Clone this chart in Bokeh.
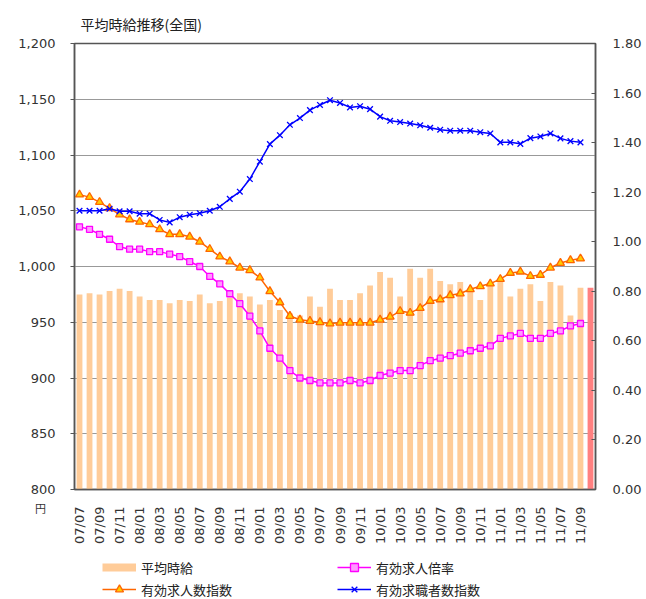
import math
from bokeh.plotting import figure
from bokeh.layouts import column
from bokeh.models import (Range1d, LinearAxis, FixedTicker, NumeralTickFormatter,
                          Legend, LegendItem, Label, ColumnDataSource)
from bokeh.embed import file_html
from bokeh.resources import INLINE

title_text = "平均時給推移(全国)"

months = ["07/07", "07/08", "07/09", "07/10", "07/11", "07/12",
          "08/01", "08/02", "08/03", "08/04", "08/05", "08/06",
          "08/07", "08/08", "08/09", "08/10", "08/11", "08/12",
          "09/01", "09/02", "09/03", "09/04", "09/05", "09/06",
          "09/07", "09/08", "09/09", "09/10", "09/11", "09/12",
          "10/01", "10/02", "10/03", "10/04", "10/05", "10/06",
          "10/07", "10/08", "10/09", "10/10", "10/11", "10/12",
          "11/01", "11/02", "11/03", "11/04", "11/05", "11/06",
          "11/07", "11/08", "11/09", "11/10"]

# 平均時給 (円)
wage = [975, 976, 975, 978, 980, 978, 973, 970, 970, 967, 970, 969,
        975, 967, 969, 972, 976, 973, 966, 970, 961, 958, 956, 973,
        964, 980, 970, 970, 976, 983, 995, 990, 973, 998, 990, 998,
        987, 984, 986, 980, 970, 986, 986, 973, 980, 984, 969, 986,
        983, 956, 981, 981]

# 有効求人倍率
ratio = [1.06, 1.05, 1.03, 1.01, 0.98, 0.97, 0.97, 0.96, 0.96, 0.95, 0.94, 0.92,
         0.90, 0.86, 0.83, 0.79, 0.75, 0.70, 0.64, 0.57, 0.53, 0.48, 0.45, 0.44,
         0.43, 0.43, 0.43, 0.44, 0.43, 0.44, 0.46, 0.47, 0.48, 0.48, 0.50, 0.52,
         0.53, 0.54, 0.55, 0.56, 0.57, 0.58, 0.61, 0.62, 0.63, 0.61, 0.61, 0.63,
         0.64, 0.66, 0.67]

# 有効求人数指数
offers = [1.19, 1.18, 1.16, 1.135, 1.11, 1.09, 1.08, 1.07, 1.05, 1.03, 1.03, 1.02,
          1.00, 0.97, 0.94, 0.92, 0.895, 0.885, 0.855, 0.80, 0.755, 0.70, 0.685, 0.68,
          0.675, 0.67, 0.673, 0.673, 0.673, 0.673, 0.685, 0.697, 0.72, 0.713, 0.732, 0.761,
          0.767, 0.784, 0.791, 0.808, 0.82, 0.831, 0.849, 0.874, 0.879, 0.861, 0.866, 0.895,
          0.914, 0.925, 0.932]

# 有効求職者数指数
seekers = [1.125, 1.125, 1.125, 1.133, 1.123, 1.123, 1.113, 1.113, 1.088, 1.078, 1.099, 1.109,
           1.115, 1.125, 1.141, 1.173, 1.202, 1.253, 1.323, 1.394, 1.430, 1.472, 1.499, 1.531,
           1.552, 1.571, 1.56, 1.542, 1.547, 1.535, 1.505, 1.488, 1.483, 1.477, 1.470, 1.460,
           1.452, 1.448, 1.448, 1.448, 1.442, 1.437, 1.401, 1.401, 1.395, 1.418, 1.425, 1.437,
           1.417, 1.406, 1.401]

left_ticks = [800, 850, 900, 950, 1000, 1050, 1100, 1150, 1200]
right_ticks = [0.0, 0.2, 0.4, 0.6, 0.8, 1.0, 1.2, 1.4, 1.6, 1.8]
label_every = 2

n = len(months)
xs = list(range(n))
bar_colors = ["#FFCC99"] * (n - 1) + ["#FF8080"]
line_x = xs[:len(ratio)]

NUM_FONT = "DejaVu Sans"
JP_FONT = "Noto Sans CJK JP"
AXIS_COL = "#555555"
TXT_COL = "#333333"
BAR_COL = "#FFCC99"

STY_RATIO = dict(color="#FF00FF", marker="square", size=6, fill="#FF99FF")
STY_OFF = dict(color="#FF6600", marker="triangle", size=8, fill="#FFCC00")
STY_SEEK = dict(color="#0000FF", marker="x", size=8, fill=None)


def draw_line_series(fig, vals, st, yr):
    rl = fig.line(line_x, vals, color=st["color"], line_width=1.5, y_range_name=yr)
    kw = dict(marker=st["marker"], size=st["size"], line_color=st["color"],
              y_range_name=yr, line_width=1.3)
    if st["fill"] is not None:
        kw["fill_color"] = st["fill"]
    rm = fig.scatter(line_x, vals, **kw)
    return rl, rm


# ---------------- main chart ----------------
p = figure(width=646, height=546, output_backend="svg", toolbar_location=None,
           x_range=Range1d(-0.5, n - 0.5), y_range=Range1d(left_ticks[0], left_ticks[-1]),
           min_border_left=74, min_border_right=51, min_border_top=43,
           min_border_bottom=56, title=title_text)
p.extra_y_ranges = {"right": Range1d(right_ticks[0], right_ticks[-1])}
p.background_fill_color = "white"
p.border_fill_color = "white"
p.outline_line_color = AXIS_COL
p.outline_line_width = 1.5

p.title.align = "left"
p.title.offset = 6
p.title.standoff = 19
p.title.text_font = JP_FONT
p.title.text_font_size = "14px"
p.title.text_font_style = "normal"
p.title.text_color = "#222222"

p.xgrid.grid_line_color = None
p.ygrid.grid_line_color = "#999999"
p.ygrid.grid_line_width = 1

src = ColumnDataSource(dict(x=xs, top=wage, color=bar_colors))
p.vbar(x="x", top="top", bottom=left_ticks[0], width=0.58,
       fill_color="color", line_color=None, source=src)
draw_line_series(p, ratio, STY_RATIO, "right")
draw_line_series(p, offers, STY_OFF, "right")
draw_line_series(p, seekers, STY_SEEK, "right")

ya = p.yaxis[0]
ya.ticker = FixedTicker(ticks=left_ticks)
ya.formatter = NumeralTickFormatter(format="0,0")
ya.major_label_text_font = NUM_FONT
ya.major_label_text_font_size = "13px"
ya.major_label_text_color = TXT_COL
ya.major_tick_out = 4
ya.major_tick_in = 0
ya.minor_tick_line_color = None
ya.major_tick_line_color = AXIS_COL
ya.axis_line_color = AXIS_COL
ya.axis_line_width = 1.5
ya.major_label_standoff = 15

ra = LinearAxis(y_range_name="right", ticker=FixedTicker(ticks=right_ticks),
                formatter=NumeralTickFormatter(format="0.00"))
ra.major_label_text_font = NUM_FONT
ra.major_label_text_font_size = "13px"
ra.major_label_text_color = TXT_COL
ra.major_tick_out = 0
ra.major_tick_in = 4
ra.minor_tick_line_color = None
ra.major_tick_line_color = AXIS_COL
ra.axis_line_color = AXIS_COL
ra.axis_line_width = 1.5
ra.major_label_standoff = 17
p.add_layout(ra, "right")

xa = p.xaxis[0]
tick_pos = [t for t in xs[::label_every] if t < len(ratio)]
xa.ticker = FixedTicker(ticks=tick_pos)
xa.major_label_overrides = {t: months[t] for t in tick_pos}
xa.major_label_orientation = math.pi / 2
xa.major_label_text_font = NUM_FONT
xa.major_label_text_font_size = "13px"
xa.major_label_text_color = TXT_COL
xa.major_tick_line_color = None
xa.major_tick_out = 0
xa.major_tick_in = 0
xa.minor_tick_line_color = None
xa.axis_line_color = AXIS_COL
xa.axis_line_width = 1.5
xa.major_label_standoff = 17

# unit label (placed via the left side panel so it is not clipped by the frame)
p.add_layout(Label(x=-0.5, y=left_ticks[0], x_offset=-34, y_offset=-18, text="円",
                   text_align="center", text_baseline="middle",
                   text_font=JP_FONT, text_font_size="11px", text_color=TXT_COL), "left")

# ---------------- legend strip ----------------
p2 = figure(width=646, height=53, output_backend="svg", toolbar_location=None,
            x_range=Range1d(-3, -2), y_range=Range1d(-3, -2),
            x_axis_location=None, y_axis_location=None, min_border=0)
p2.extra_y_ranges = {"right": Range1d(-3, -2)}
p2.outline_line_color = None
p2.grid.grid_line_color = None
p2.background_fill_color = "white"
p2.border_fill_color = "white"

lb = p2.line(xs, wage, color=BAR_COL, line_width=8)
l_ratio, m_ratio = draw_line_series(p2, ratio, STY_RATIO, "right")
l_off, m_off = draw_line_series(p2, offers, STY_OFF, "right")
l_seek, m_seek = draw_line_series(p2, seekers, STY_SEEK, "right")

legend = Legend(items=[
    LegendItem(label="平均時給", renderers=[lb]),
    LegendItem(label="有効求人数指数", renderers=[l_off, m_off]),
    LegendItem(label="有効求人倍率", renderers=[l_ratio, m_ratio]),
    LegendItem(label="有効求職者数指数", renderers=[l_seek, m_seek]),
], ncols=2, location=(28, 0))
legend.border_line_color = None
legend.background_fill_alpha = 0
legend.padding = 0
legend.margin = 0
legend.spacing = 2
legend.glyph_width = 34
legend.glyph_height = 20
legend.label_height = 20
legend.label_width = 194
legend.label_standoff = 5
legend.label_text_font = JP_FONT
legend.label_text_font_size = "13px"
legend.label_text_color = "#222222"
p2.add_layout(legend, "center")

layout = column(p, p2, spacing=0)
open("out.html", "w").write(file_html(layout, INLINE))
